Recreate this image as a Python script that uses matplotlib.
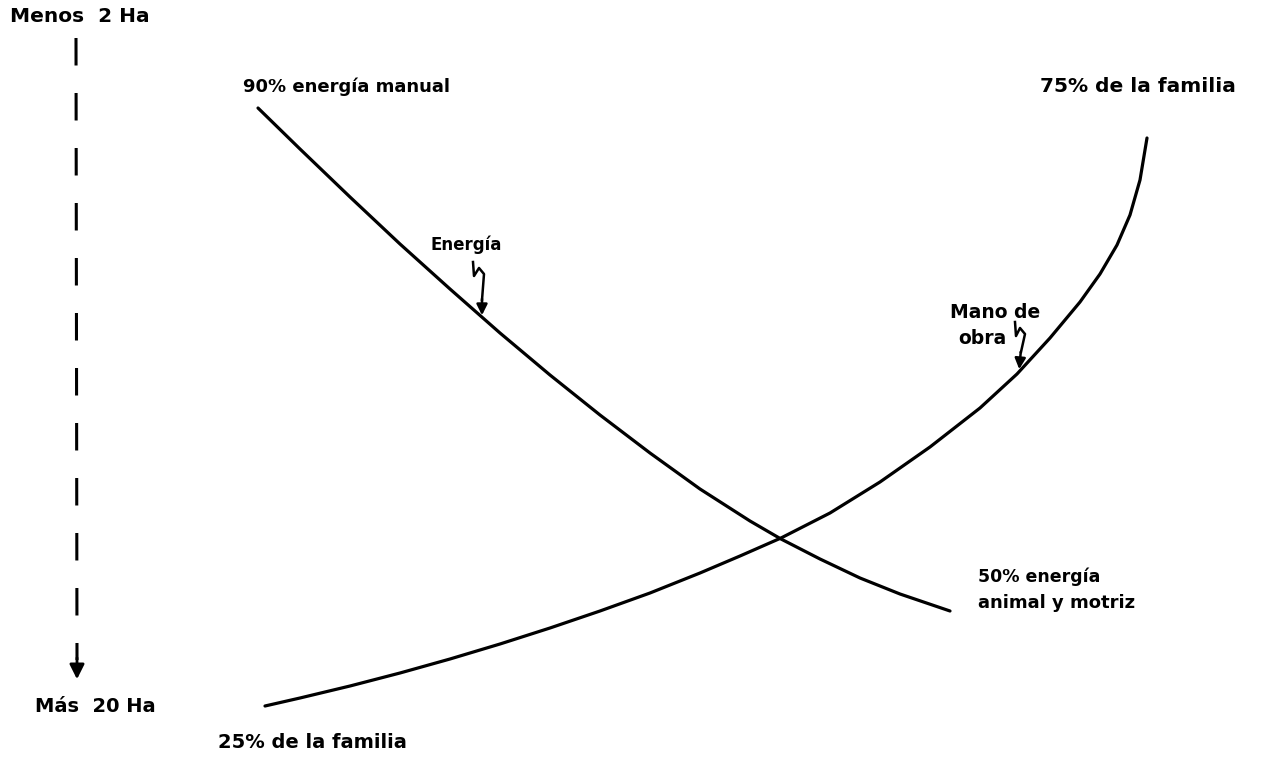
import matplotlib.pyplot as plt

# curves (drawing units: x to the right, y downward)
energia_x = [258, 300, 350, 400, 450, 500, 550, 600, 650, 700, 750, 781, 820, 860, 900, 950]
energia_y = [108, 149, 197, 244, 289, 333, 375, 415, 453, 489, 521, 539, 559, 578, 594, 611]

obra_x = [265, 300, 350, 400, 450, 500, 550, 600, 650, 700, 740, 781, 830, 880, 930, 980,
          1017, 1050, 1080, 1100, 1117, 1130, 1140, 1147]
obra_y = [706, 698, 686, 673, 659, 644, 628, 611, 593, 573, 556, 538, 513, 482, 447, 408,
          374, 338, 302, 274, 245, 215, 180, 138]

top_label = "Menos  2 Ha"
bottom_label = "Más  20 Ha"

fig = plt.figure(figsize=(12.8, 7.57), dpi=100)
ax = fig.add_axes([0, 0, 1, 1])
ax.set_xlim(0, 1280)
ax.set_ylim(757, 0)
ax.axis('off')

ax.plot(energia_x, energia_y, c='k', lw=2.3, solid_capstyle='round', solid_joinstyle='round')
ax.plot(obra_x, obra_y, c='k', lw=2.3, solid_capstyle='round', solid_joinstyle='round')

# dashed size axis with arrow
ax.plot([76, 77], [38, 660], c='k', lw=2.2, dashes=(9, 9))
ax.annotate('', xy=(77, 682), xytext=(77, 655),
            arrowprops=dict(arrowstyle='-|>', color='k', lw=2, mutation_scale=22))

txt = dict(fontweight='bold', family='DejaVu Sans', va='center', ha='left')
ax.text(10, 17, top_label, fontsize=14.5, **txt)
ax.text(35, 706, bottom_label, fontsize=14, **txt)
ax.text(218, 743, "25% de la familia", fontsize=14, **txt)
ax.text(243, 87, "90% energía manual", fontsize=13, **txt)
ax.text(1040, 87, "75% de la familia", fontsize=14.5, **txt)
ax.text(430, 245, "Energía", fontsize=12, **txt)
ax.text(950, 312, "Mano de", fontsize=13.5, **txt)
ax.text(958, 338, "obra", fontsize=13.5, **txt)
ax.text(978, 577, "50% energía", fontsize=12.5, **txt)
ax.text(978, 603, "animal y motriz", fontsize=13, **txt)

# small squiggle pointers
ax.plot([473, 474, 479, 484, 482], [262, 276, 268, 274, 300], c='k', lw=1.8)
ax.annotate('', xy=(482, 318), xytext=(482, 296),
            arrowprops=dict(arrowstyle='-|>', color='k', lw=1.8, mutation_scale=16))
ax.plot([1015, 1016, 1020, 1025, 1021], [322, 336, 328, 334, 352], c='k', lw=1.8)
ax.annotate('', xy=(1019, 372), xytext=(1021, 349),
            arrowprops=dict(arrowstyle='-|>', color='k', lw=1.8, mutation_scale=16))

plt.savefig('out.png')
